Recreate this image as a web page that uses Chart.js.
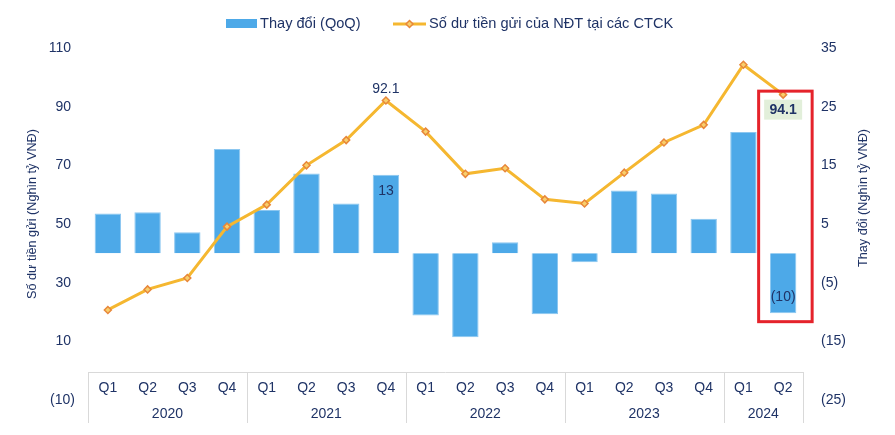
<!DOCTYPE html>
<html>
<head>
<meta charset="utf-8">
<script src="https://cdn.jsdelivr.net/npm/chart.js@4.4.1/dist/chart.umd.min.js"></script>
<style>
  html, body { margin: 0; padding: 0; background: #fff; }
</style>
</head>
<body>
<canvas id="chart" width="895" height="435"></canvas>
<script>
// data
const quarters = ['Q1', 'Q2', 'Q3', 'Q4', 'Q1', 'Q2', 'Q3', 'Q4', 'Q1', 'Q2', 'Q3', 'Q4', 'Q1', 'Q2', 'Q3', 'Q4', 'Q1', 'Q2'];
const years = ['2020', '2021', '2022', '2023', '2024'];
const yearSpans = [4, 4, 4, 4, 2];
const balance = [20.7, 27.7, 31.6, 49.1, 56.6, 70.0, 78.6, 92.1, 81.5, 67.1, 69.0, 58.4, 57.0, 67.5, 77.8, 83.8, 104.3, 94.1];
const change = [6.8, 7.0, 3.6, 17.8, 7.4, 13.6, 8.5, 13.4, -10.6, -14.3, 1.9, -10.4, -1.5, 10.7, 10.2, 5.9, 20.7, -10.2];
const leftTicks = [-10, 10, 30, 50, 70, 90, 110];
const rightTicks = [-25, -15, -5, 5, 15, 25, 35];

const NAVY = '#1f3366';
const FONT = "'Liberation Sans', Arial, sans-serif";
Chart.defaults.font.family = FONT;

function fmt(v) {
  return v < 0 ? '(' + (-v) + ')' : String(v);
}

// legend, axis titles, two-level category axis and annotations
const extras = {
  id: 'extras',
  afterDraw(chart) {
    const ctx = chart.ctx;
    const area = chart.chartArea;
    const x = chart.scales.x;
    const lineMeta = chart.getDatasetMeta(0);
    const barMeta = chart.getDatasetMeta(1);
    ctx.save();

    // legend
    ctx.fillStyle = '#4da9e8';
    ctx.fillRect(226, 19, 31, 9);
    ctx.font = '14.6px ' + FONT;
    ctx.fillStyle = NAVY;
    ctx.textBaseline = 'middle';
    ctx.textAlign = 'left';
    ctx.fillText('Thay đổi (QoQ)', 260, 24);
    ctx.strokeStyle = '#f5b730';
    ctx.lineWidth = 3;
    ctx.beginPath();
    ctx.moveTo(393, 24);
    ctx.lineTo(426, 24);
    ctx.stroke();
    ctx.beginPath();
    ctx.moveTo(409.5, 20.5); ctx.lineTo(413, 24); ctx.lineTo(409.5, 27.5); ctx.lineTo(406, 24); ctx.closePath();
    ctx.fillStyle = '#f8cf6b';
    ctx.fill();
    ctx.strokeStyle = '#e8873a';
    ctx.lineWidth = 1.5;
    ctx.stroke();
    ctx.fillStyle = NAVY;
    ctx.fillText('Số dư tiền gửi của NĐT tại các CTCK', 429, 24);

    // axis titles
    ctx.font = '12.7px ' + FONT;
    ctx.textAlign = 'center';
    ctx.save();
    ctx.translate(32, 214);
    ctx.rotate(-Math.PI / 2);
    ctx.fillText('Số dư tiền gửi (Nghìn tỷ VNĐ)', 0, 0);
    ctx.restore();
    ctx.save();
    ctx.translate(863, 198);
    ctx.rotate(-Math.PI / 2);
    ctx.fillText('Thay đổi (Nghìn tỷ VNĐ)', 0, 0);
    ctx.restore();

    // two-level category labels
    const w = (area.right - area.left) / quarters.length;
    ctx.font = '14px ' + FONT;
    quarters.forEach((q, i) => {
      ctx.fillText(q, x.getPixelForValue(i), 388);
    });
    ctx.strokeStyle = '#d9d9d9';
    ctx.lineWidth = 1;
    ctx.beginPath();
    ctx.moveTo(area.left, 372.5);
    ctx.lineTo(area.right, 372.5);
    let start = 0;
    years.forEach((yr, k) => {
      const end = start + yearSpans[k] - 1;
      const x0 = x.getPixelForValue(start) - w / 2;
      const x1 = x.getPixelForValue(end) + w / 2;
      ctx.moveTo(Math.round(x0) + 0.5, 372);
      ctx.lineTo(Math.round(x0) + 0.5, 423);
      if (k === years.length - 1) {
        ctx.moveTo(Math.round(x1) + 0.5, 372);
        ctx.lineTo(Math.round(x1) + 0.5, 423);
      }
      ctx.fillText(yr, (x0 + x1) / 2, 414);
      start = end + 1;
    });
    ctx.stroke();

    // data labels
    const p7 = lineMeta.data[7];
    ctx.fillText(balance[7].toFixed(1), p7.x, p7.y - 11);
    const b7 = barMeta.data[7];
    ctx.fillText(String(Math.round(change[7])), b7.x, b7.y + 16);
    const last = quarters.length - 1;
    const pl = lineMeta.data[last];
    const bl = barMeta.data[last];
    ctx.fillText(fmt(Math.round(change[last])), bl.x, bl.y - 16);
    ctx.fillStyle = '#e2efda';
    ctx.fillRect(pl.x - 19, pl.y + 5, 38, 20);
    ctx.fillStyle = NAVY;
    ctx.font = 'bold 14px ' + FONT;
    ctx.fillText(balance[last].toFixed(1), pl.x, pl.y + 15.5);

    // red highlight box
    ctx.strokeStyle = '#e5232b';
    ctx.lineWidth = 3;
    ctx.strokeRect(pl.x - 24.5, pl.y - 3.5, 53.5, bl.y + 12 - pl.y);

    ctx.restore();
  }
};

new Chart(document.getElementById('chart'), {
  type: 'bar',
  data: {
    labels: quarters,
    datasets: [
      {
        type: 'line',
        label: 'Số dư tiền gửi của NĐT tại các CTCK',
        data: balance,
        yAxisID: 'y',
        order: 0,
        borderColor: '#f5b730',
        borderWidth: 3,
        tension: 0,
        pointStyle: 'rectRot',
        pointRadius: 3.5,
        pointBackgroundColor: '#f8cf6b',
        pointBorderColor: '#e8873a',
        pointBorderWidth: 1.5
      },
      {
        type: 'bar',
        label: 'Thay đổi (QoQ)',
        data: change,
        yAxisID: 'y1',
        order: 1,
        backgroundColor: '#4da9e8',
        borderColor: '#8cc7f0',
        borderWidth: 1,
        barPercentage: 0.665,
        categoryPercentage: 1
      }
    ]
  },
  options: {
    responsive: false,
    animation: false,
    devicePixelRatio: 1,
    layout: { padding: { top: 48, bottom: 35, left: 0, right: 0 } },
    plugins: {
      legend: { display: false },
      tooltip: { enabled: false }
    },
    scales: {
      x: { display: false },
      y: {
        position: 'left',
        min: -10,
        max: 110,
        afterFit: s => { s.width = 88; },
        afterBuildTicks: s => { s.ticks = leftTicks.map(v => ({ value: v })); },
        grid: { display: false, drawTicks: false },
        border: { display: false },
        ticks: {
          padding: 13,
          color: NAVY,
          font: { size: 14 },
          callback: v => v < 0 ? fmt(v) : v + ' '
        }
      },
      y1: {
        position: 'right',
        min: -25,
        max: 35,
        afterFit: s => { s.width = 92; },
        afterBuildTicks: s => { s.ticks = rightTicks.map(v => ({ value: v })); },
        grid: { display: false, drawTicks: false },
        border: { display: false },
        ticks: {
          padding: 18,
          color: NAVY,
          font: { size: 14 },
          callback: v => fmt(v)
        }
      }
    }
  },
  plugins: [extras]
});
</script>
</body>
</html>
